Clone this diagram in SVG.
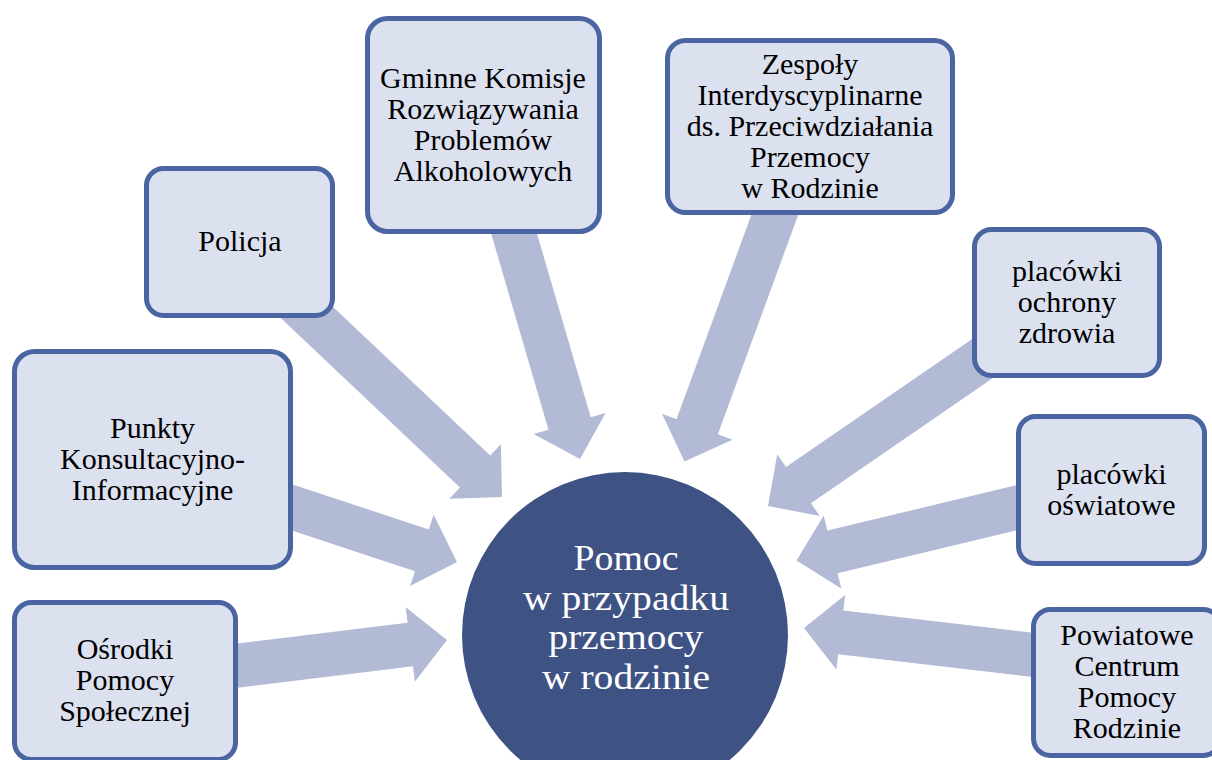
<svg xmlns="http://www.w3.org/2000/svg" width="1212" height="760" viewBox="0 0 1212 760">
<defs>
<style>
.box{fill:#dce1f0;stroke:#4b65a3;stroke-width:5}
.arr{fill:#b2bad5}
.t{font-family:"Liberation Serif","DejaVu Serif",serif;font-size:30px;fill:#000;text-anchor:middle}
.c{font-family:"Liberation Serif","DejaVu Serif",serif;font-size:35px;fill:#fff;text-anchor:middle}
</style>
</defs>
<rect width="1212" height="760" fill="#fff"/>
<g id="connectors">
<path class="arr" transform="translate(502,497) rotate(43.4)" d="M0,0 L-37,-37.5 L-37,-22 L-360,-22 L-360,22 L-37,22 L-37,37.5 Z"/>
<path class="arr" transform="translate(580,459) rotate(73.7)" d="M0,0 L-37,-37.5 L-37,-22 L-345,-22 L-345,22 L-37,22 L-37,37.5 Z"/>
<path class="arr" transform="translate(684.5,461.5) rotate(110.1)" d="M0,0 L-37,-37.5 L-37,-22 L-355,-22 L-355,22 L-37,22 L-37,37.5 Z"/>
<path class="arr" transform="translate(768,506) rotate(145.5)" d="M0,0 L-37,-37.5 L-37,-22 L-358,-22 L-358,22 L-37,22 L-37,37.5 Z"/>
<path class="arr" transform="translate(796.5,560.6) rotate(166.5)" d="M0,0 L-37,-37.5 L-37,-22 L-320,-22 L-320,22 L-37,22 L-37,37.5 Z"/>
<path class="arr" transform="translate(804,628) rotate(186.7)" d="M0,0 L-37,-37.5 L-37,-22 L-325,-22 L-325,22 L-37,22 L-37,37.5 Z"/>
<path class="arr" transform="translate(457,562) rotate(18.3)" d="M0,0 L-37,-37.5 L-37,-22 L-318,-22 L-318,22 L-37,22 L-37,37.5 Z"/>
<path class="arr" transform="translate(447,640) rotate(-7)" d="M0,0 L-37,-37.5 L-37,-22 L-322,-22 L-322,22 L-37,22 L-37,37.5 Z"/>
</g>
<g id="center">
<circle cx="625" cy="635" r="163" fill="#3e5284"/>
<text class="c" x="626" y="570" textLength="105" lengthAdjust="spacingAndGlyphs">Pomoc</text>
<text class="c" x="626" y="609.5" textLength="206" lengthAdjust="spacingAndGlyphs">w przypadku</text>
<text class="c" x="626" y="649" textLength="155" lengthAdjust="spacingAndGlyphs">przemocy</text>
<text class="c" x="626" y="688.5" textLength="168" lengthAdjust="spacingAndGlyphs">w rodzinie</text>
</g>
<g id="policja">
<rect class="box" x="146.5" y="168.5" width="186" height="147" rx="17"/>
<text class="t" x="240" y="251">Policja</text>
</g>
<g id="gminne">
<rect class="box" x="367.5" y="18.5" width="232" height="213" rx="20"/>
<text class="t" x="483" y="87.5">Gminne Komisje</text>
<text class="t" x="483" y="118.5">Rozwiązywania</text>
<text class="t" x="483" y="149.5">Problemów</text>
<text class="t" x="483" y="180.5">Alkoholowych</text>
</g>
<g id="zespoly">
<rect class="box" x="667.5" y="40.5" width="285" height="172" rx="18"/>
<text class="t" x="810" y="73.5">Zespoły</text>
<text class="t" x="810" y="104.5">Interdyscyplinarne</text>
<text class="t" x="810" y="135.5">ds. Przeciwdziałania</text>
<text class="t" x="810" y="166.5">Przemocy</text>
<text class="t" x="810" y="197.5">w Rodzinie</text>
</g>
<g id="ochrona">
<rect class="box" x="974.5" y="229.5" width="185" height="146" rx="17"/>
<text class="t" x="1067" y="281">placówki</text>
<text class="t" x="1067" y="312">ochrony</text>
<text class="t" x="1067" y="343">zdrowia</text>
</g>
<g id="oswiatowe">
<rect class="box" x="1018.5" y="416.5" width="186" height="147" rx="17"/>
<text class="t" x="1111.5" y="483.5">placówki</text>
<text class="t" x="1111.5" y="514.5">oświatowe</text>
</g>
<g id="powiatowe">
<rect class="box" x="1033.5" y="609.5" width="187" height="146" rx="17"/>
<text class="t" x="1127" y="645">Powiatowe</text>
<text class="t" x="1127" y="676">Centrum</text>
<text class="t" x="1127" y="707">Pomocy</text>
<text class="t" x="1127" y="738">Rodzinie</text>
</g>
<g id="punkty">
<rect class="box" x="14.5" y="351.5" width="276" height="216" rx="20"/>
<text class="t" x="152.5" y="438">Punkty</text>
<text class="t" x="152.5" y="469">Konsultacyjno-</text>
<text class="t" x="152.5" y="500">Informacyjne</text>
</g>
<g id="osrodki">
<rect class="box" x="14.5" y="602.5" width="221" height="157" rx="17"/>
<text class="t" x="125" y="659">Ośrodki</text>
<text class="t" x="125" y="690">Pomocy</text>
<text class="t" x="125" y="721">Społecznej</text>
</g>
</svg>
